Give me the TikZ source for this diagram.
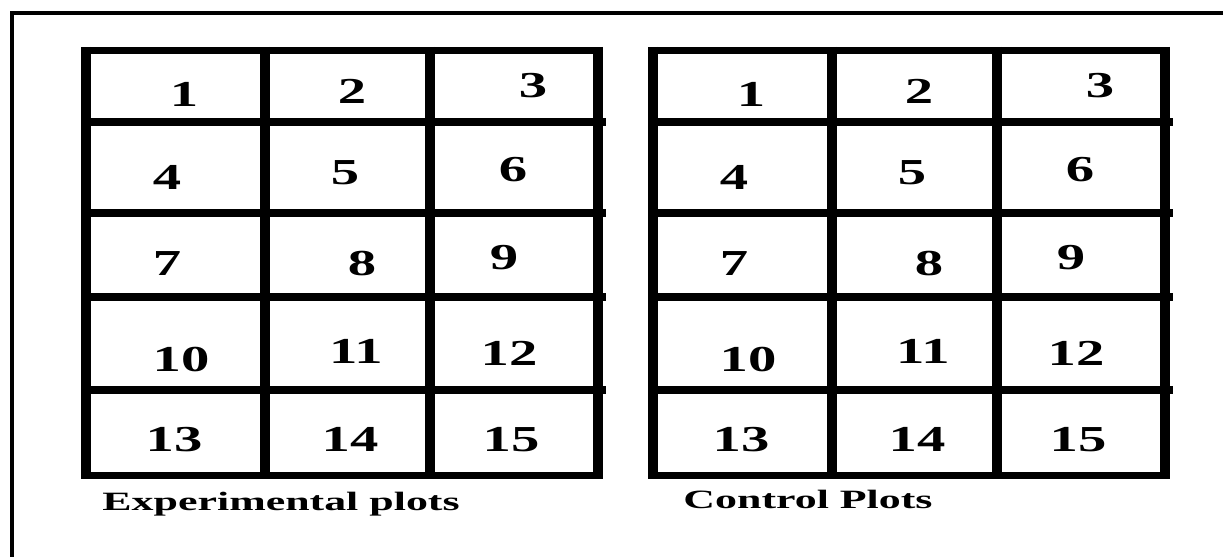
\documentclass[tikz,border=0pt]{standalone}
\usepackage{fontspec}
\setmainfont{Liberation Serif}

\begin{document}
\begin{tikzpicture}[
  x=0.025cm, y=-0.025cm,
  frame/.style={line width=3.2pt},
  vline/.style={line width=7.8pt},
  hline/.style={line width=5.3pt},
  num/.style={font=\fontsize{26}{26}\selectfont\bfseries, inner sep=0pt, xscale=1.55},
  caption/.style={font=\fontsize{18.8}{20}\selectfont\bfseries, inner sep=0pt, anchor=base west, xscale=1.66},
]
  \useasboundingbox (0,0) rectangle (1223,557);

  % outer frame (only top and left edges show)
  \draw[frame] (1223,13) -- (12,13) -- (12,557);

  % the two 3x5 grids
  \foreach \dx/\g in {0/exp, 567/ctl} {
    \begin{scope}[xshift=\dx*0.025cm]
      \foreach \x in {86, 265, 430, 598}
        \draw[vline] (\x,47) -- (\x,479);
      \foreach \y in {50.5, 475.5}
        \draw[hline] (81,\y) -- (603,\y);
      \foreach \y in {122, 213, 297, 390}
        \draw[hline] (81,\y) -- (606,\y);
      \foreach \n/\x/\y in {1/184/95, 2/352/92, 3/533/86,
                            4/167/178, 5/345/173, 6/513/170,
                            7/167/264, 8/362/264, 9/504/258,
                            10/181/360, 11/356/352, 12/509/354,
                            13/174/440, 14/350/440, 15/511/440}
        \node[num] (\g\n) at (\x,\y-0.5) {\n};
    \end{scope}
  }

  \node[caption] (expcap) at (102,510) {Experimental plots};
  \node[caption] (ctlcap) at (683,508) {Control Plots};
\end{tikzpicture}
\end{document}
